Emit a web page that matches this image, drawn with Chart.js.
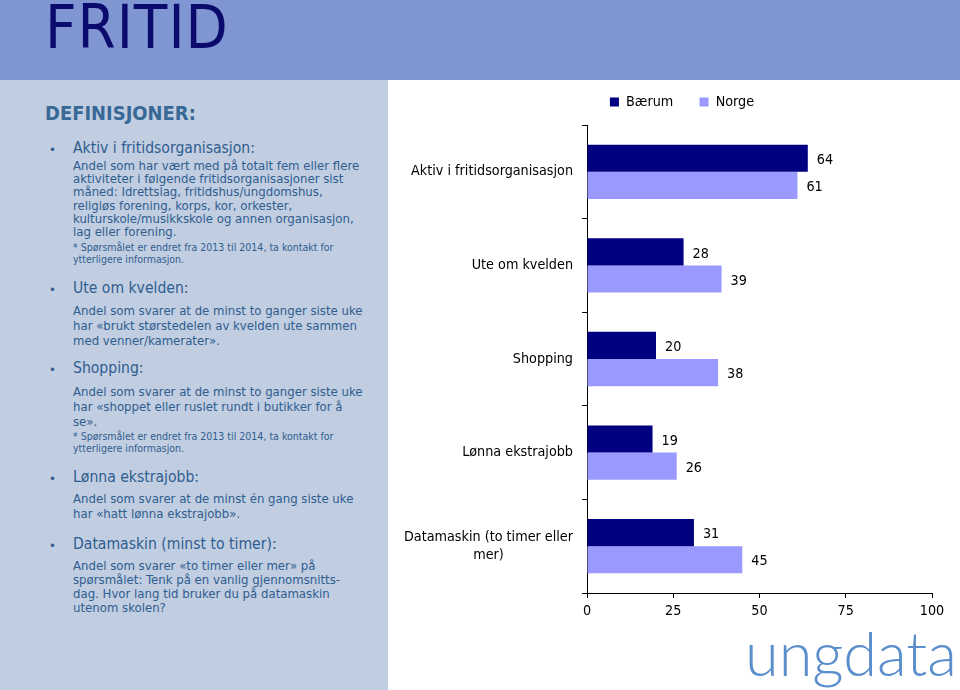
<!DOCTYPE html>
<html>
<head>
<meta charset="utf-8">
<script src="https://cdn.jsdelivr.net/npm/chart.js@4.4.0/dist/chart.umd.min.js"></script>
<style>
  body { margin: 0; width: 960px; height: 690px; position: relative; overflow: hidden; background: #fff; }
  #top { position: absolute; left: 0; top: 0; width: 960px; height: 80px; background: #8096d2; }
  #side { position: absolute; left: 0; top: 80px; width: 388px; height: 610px; background: #c1cde1; }
  .ln { position: absolute; white-space: nowrap; line-height: 1; color: #2f5d8f; }
  #wrap { position: absolute; left: 388px; top: 80px; width: 572px; height: 610px; }
</style>
</head>
<body>
<div id="top"></div>
<div id="side"></div>
<div id="wrap"><canvas id="fritidChart" width="572" height="610"></canvas></div>

<script>
// chart data
const categories = ['Aktiv i fritidsorganisasjon', 'Ute om kvelden', 'Shopping', 'Lønna ekstrajobb', ['Datamaskin (to timer eller', 'mer)']];
const seriesNames = ['Bærum', 'Norge'];
const baerum = [64, 28, 20, 19, 31];
const norge = [61, 39, 38, 26, 45];
const xTicks = [0, 25, 50, 75, 100];

const FAM = '"DejaVu Sans Condensed", "DejaVu Sans", sans-serif';

// pick a font size so that a reference string gets the width seen in the slide
const measureCtx = document.createElement('canvas').getContext('2d');
const fitSize = (text, family, weight, target) => {
  measureCtx.font = weight + ' 100px ' + family;
  return 100 * target / measureCtx.measureText(text).width;
};

// left panel text
const sideLines = [
  ['d', 'DEFINISJONER:', 115],
  ['h', 'Aktiv i fritidsorganisasjon:', 150],
  ['b', 'Andel som har vært med på totalt fem eller flere', 166],
  ['b', 'aktiviteter i følgende fritidsorganisasjoner sist', 179],
  ['b', 'måned: Idrettslag, fritidshus/ungdomshus,', 192],
  ['b', 'religiøs forening, korps, kor, orkester,', 206],
  ['b', 'kulturskole/musikkskole og annen organisasjon,', 219],
  ['b', 'lag eller forening.', 232],
  ['n', '* Spørsmålet er endret fra 2013 til 2014, ta kontakt for', 248],
  ['n', 'ytterligere informasjon.', 260],
  ['h', 'Ute om kvelden:', 290],
  ['b', 'Andel som svarer at de minst to ganger siste uke', 311],
  ['b', 'har «brukt størstedelen av kvelden ute sammen', 326],
  ['b', 'med venner/kamerater».', 341],
  ['h', 'Shopping:', 370],
  ['b', 'Andel som svarer at de minst to ganger siste uke', 392],
  ['b', 'har «shoppet eller ruslet rundt i butikker for å', 407],
  ['b', 'se».', 422],
  ['n', '* Spørsmålet er endret fra 2013 til 2014, ta kontakt for', 437],
  ['n', 'ytterligere informasjon.', 449],
  ['h', 'Lønna ekstrajobb:', 479],
  ['b', 'Andel som svarer at de minst én gang siste uke', 499],
  ['b', 'har «hatt lønna ekstrajobb».', 514],
  ['h', 'Datamaskin (minst to timer):', 546],
  ['b', 'Andel som svarer «to timer eller mer» på', 566],
  ['b', 'spørsmålet: Tenk på en vanlig gjennomsnitts-', 580],
  ['b', 'dag. Hvor lang tid bruker du på datamaskin', 594],
  ['b', 'utenom skolen?', 608]
];

const styles = {
  d: { size: fitSize('DEFINISJONER:', FAM, 'bold', 151), weight: 'bold', x: 45, color: '#386896' },
  h: { size: fitSize('Aktiv i fritidsorganisasjon:', FAM, 'normal', 182), weight: 'normal', x: 73 },
  b: { size: fitSize('Andel som svarer at de minst to ganger siste uke', FAM, 'normal', 290), weight: 'normal', x: 73 },
  n: { size: fitSize('* Spørsmålet er endret fra 2013 til 2014, ta kontakt for', FAM, 'normal', 261), weight: 'normal', x: 73 }
};

const addText = (text, x, y, size, weight, color, family) => {
  const el = document.createElement('div');
  el.className = 'ln';
  el.textContent = text;
  el.style.left = x + 'px';
  el.style.top = (y - 0.55 * size) + 'px';
  el.style.fontSize = size + 'px';
  el.style.fontWeight = weight;
  el.style.fontFamily = family || FAM;
  if (color) el.style.color = color;
  document.body.appendChild(el);
  return el;
};

sideLines.forEach(([k, text, y]) => {
  const s = styles[k];
  addText(text, s.x, y, s.size, s.weight, s.color);
  if (k === 'h') addText('•', 49, y, 13, 'normal');
});

// slide title
const titleSize = 61;
const title = addText('FRITID', 45, 0, titleSize, 'normal', '#0b0b6e');
title.style.top = (47.5 - 0.846 * titleSize) + 'px';
title.style.letterSpacing = '1px';

// logo text
const LOGO = 'Lato, "DejaVu Sans", sans-serif';
const logoSize = fitSize('ungdata', LOGO, '300', 212);
const logo = addText('ungdata', 745, 0, logoSize, '300', '#5b8fcc', LOGO);
logo.style.top = (676 - 0.887 * logoSize) + 'px';

// chart
const chartFont = fitSize('Aktiv i fritidsorganisasjon', FAM, 'normal', 162);
const legendTextY = 22;
const legendPad = 10;
const layoutTop = legendTextY - legendPad - chartFont / 2;

// category labels: each block right aligned, lines centred inside it
const categoryLabels = {
  id: 'categoryLabels',
  afterDraw(chart) {
    const { ctx, scales: { y } } = chart;
    ctx.save();
    ctx.font = chartFont + 'px ' + FAM;
    ctx.fillStyle = '#000';
    ctx.textAlign = 'center';
    ctx.textBaseline = 'middle';
    chart.data.labels.forEach((lab, i) => {
      const lines = Array.isArray(lab) ? lab : [lab];
      const w = Math.max(...lines.map(l => ctx.measureText(l).width));
      const cx = chart.chartArea.left - 14 - w / 2;
      const cy = y.getPixelForTick(i);
      lines.forEach((l, k) => {
        ctx.fillText(l, cx, cy + (k - (lines.length - 1) / 2) * 18);
      });
    });
    ctx.restore();
  }
};

const valueLabels = {
  id: 'valueLabels',
  afterDatasetsDraw(chart) {
    const ctx = chart.ctx;
    ctx.save();
    ctx.font = chartFont + 'px ' + FAM;
    ctx.fillStyle = '#000';
    ctx.textAlign = 'left';
    ctx.textBaseline = 'middle';
    chart.data.datasets.forEach((ds, i) => {
      chart.getDatasetMeta(i).data.forEach((bar, j) => {
        ctx.fillText(ds.data[j], bar.x + 9, bar.y + 2);
      });
    });
    ctx.restore();
  }
};

const legendHeight = {
  id: 'legendHeight',
  afterInit(chart) {
    const lg = chart.legend;
    const fit = lg.fit.bind(lg);
    lg.fit = function () {
      fit();
      this.height = 45 - layoutTop;
    };
  }
};

new Chart(document.getElementById('fritidChart'), {
  type: 'bar',
  data: {
    labels: categories,
    datasets: [
      { label: seriesNames[0], data: baerum, backgroundColor: '#000080', categoryPercentage: 0.58, barPercentage: 1 },
      { label: seriesNames[1], data: norge, backgroundColor: '#9999ff', categoryPercentage: 0.58, barPercentage: 1 }
    ]
  },
  options: {
    indexAxis: 'y',
    responsive: false,
    animation: false,
    layout: { padding: { top: layoutTop, right: 28, bottom: 0, left: 44 } },
    plugins: {
      tooltip: { enabled: false },
      legend: {
        position: 'top',
        labels: {
          boxWidth: 9,
          boxHeight: 9,
          padding: legendPad,
          color: '#000',
          font: { family: FAM, size: chartFont },
          generateLabels(chart) {
            const items = Chart.defaults.plugins.legend.labels.generateLabels(chart);
            items[0].text += '\u00a0\u00a0\u00a0\u00a0';
            return items;
          }
        }
      }
    },
    scales: {
      x: {
        min: 0,
        max: 100,
        afterBuildTicks(scale) { scale.ticks = xTicks.map(v => ({ value: v })); },
        ticks: { color: '#000', padding: 5, font: { family: FAM, size: chartFont } },
        grid: { drawOnChartArea: false, tickLength: 5, color: '#000' },
        border: { color: '#000' },
        afterFit(scale) { scale.height = 97; }
      },
      y: {
        ticks: { display: false },
        grid: { offset: true, drawOnChartArea: false, tickLength: 5, color: '#000' },
        border: { color: '#000' },
        afterFit(scale) { scale.width = 155; }
      }
    }
  },
  plugins: [categoryLabels, valueLabels, legendHeight]
});
</script>
</body>
</html>
